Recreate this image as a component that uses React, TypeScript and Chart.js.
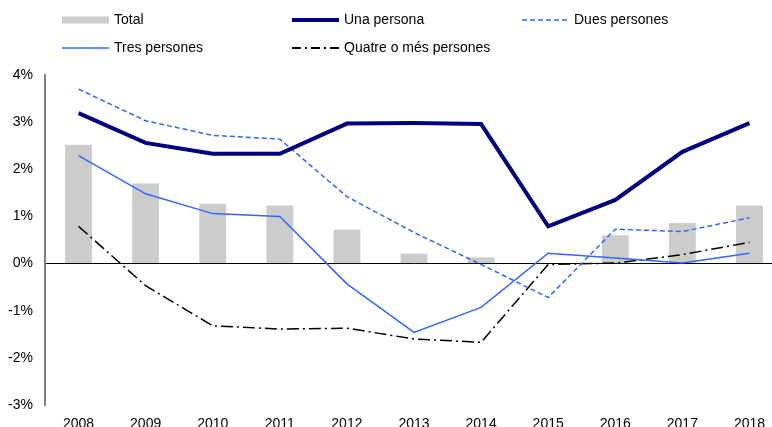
import { useEffect, useRef } from 'react';
import { Chart, registerables } from 'chart.js';

Chart.register(...registerables);

const years = ['2008', '2009', '2010', '2011', '2012', '2013', '2014', '2015', '2016', '2017', '2018'];
const total = [2.52, 1.7, 1.27, 1.23, 0.72, 0.21, 0.13, 0.0, 0.6, 0.86, 1.23];
const unaPersona = [3.19, 2.56, 2.33, 2.33, 2.97, 2.98, 2.96, 0.79, 1.35, 2.37, 2.98];
const duesPersones = [3.7, 3.03, 2.72, 2.64, 1.42, 0.66, -0.02, -0.72, 0.73, 0.68, 0.97];
const tresPersones = [2.29, 1.48, 1.06, 1.0, -0.43, -1.46, -0.93, 0.22, 0.12, 0.01, 0.22];
const quatrePersones = [0.79, -0.47, -1.32, -1.39, -1.37, -1.6, -1.67, -0.02, 0.01, 0.19, 0.45];
const yMin = -3;
const yMax = 4;

const FONT = "'Liberation Sans', Arial, sans-serif";
const GREY = '#CCCCCC';
const NAVY = '#000080';
const BLUE = '#3366FF';

type LegendItem = {
  label: string;
  kind: 'box' | 'line';
  color: string;
  width: number;
  dash: number[];
  x: number;
  y: number;
};

const legendItems: LegendItem[] = [
  { label: 'Total', kind: 'box', color: GREY, width: 7, dash: [], x: 62, y: 20 },
  { label: 'Una persona', kind: 'line', color: NAVY, width: 4, dash: [], x: 292, y: 20 },
  { label: 'Dues persones', kind: 'line', color: BLUE, width: 1.5, dash: [5, 3], x: 522, y: 20 },
  { label: 'Tres persones', kind: 'line', color: BLUE, width: 1.5, dash: [], x: 62, y: 48 },
  { label: 'Quatre o més persones', kind: 'line', color: '#000000', width: 2, dash: [9, 4, 2, 4], x: 292, y: 48 },
];

const legendPlugin = {
  id: 'customLegend',
  afterDraw(chart: Chart) {
    const ctx = chart.ctx;
    ctx.save();
    ctx.font = `14px ${FONT}`;
    ctx.textBaseline = 'middle';
    ctx.textAlign = 'left';
    for (const it of legendItems) {
      const len = 47;
      if (it.kind === 'box') {
        ctx.fillStyle = it.color;
        ctx.fillRect(it.x, it.y - it.width / 2, len, it.width);
      } else {
        ctx.strokeStyle = it.color;
        ctx.lineWidth = it.width;
        ctx.setLineDash(it.dash);
        ctx.beginPath();
        ctx.moveTo(it.x, it.y);
        ctx.lineTo(it.x + len, it.y);
        ctx.stroke();
        ctx.setLineDash([]);
      }
      ctx.fillStyle = '#000';
      ctx.fillText(it.label, it.x + len + 5, it.y);
    }
    ctx.restore();
  },
};

export default function App() {
  const ref = useRef<HTMLCanvasElement>(null);

  useEffect(() => {
    if (!ref.current) return;
    const chart = new Chart(ref.current, {
      type: 'bar',
      data: {
        labels: years,
        datasets: [
          {
            type: 'line',
            label: 'Una persona',
            data: unaPersona,
            borderColor: NAVY,
            borderWidth: 4,
            pointRadius: 0,
            tension: 0,
            order: 1,
          },
          {
            type: 'line',
            label: 'Dues persones',
            data: duesPersones,
            borderColor: BLUE,
            borderWidth: 1.5,
            borderDash: [5, 3],
            pointRadius: 0,
            tension: 0,
            order: 2,
          },
          {
            type: 'line',
            label: 'Tres persones',
            data: tresPersones,
            borderColor: BLUE,
            borderWidth: 1.5,
            pointRadius: 0,
            tension: 0,
            order: 3,
          },
          {
            type: 'line',
            label: 'Quatre o més persones',
            data: quatrePersones,
            borderColor: '#000000',
            borderWidth: 1.5,
            borderDash: [12, 4, 2, 4],
            pointRadius: 0,
            tension: 0,
            order: 4,
          },
          {
            type: 'bar',
            label: 'Total',
            data: total,
            backgroundColor: GREY,
            barPercentage: 0.4,
            categoryPercentage: 1,
            order: 5,
          },
        ],
      },
      options: {
        responsive: false,
        animation: false,
        layout: { padding: { top: 75, right: 1, left: 0, bottom: 0 } },
        plugins: {
          legend: { display: false },
          tooltip: { enabled: false },
        },
        scales: {
          x: {
            offset: true,
            grid: { display: false },
            border: { display: false },
            ticks: {
              color: '#000',
              font: { family: FONT, size: 14 },
              padding: 3,
              maxRotation: 0,
            },
            afterFit: (scale: any) => {
              scale.height = 22;
            },
          },
          y: {
            min: yMin,
            max: yMax,
            border: { display: true, color: '#808080', width: 2 },
            grid: {
              drawTicks: false,
              color: (c: any) => (c.tick && c.tick.value === 0 ? '#000000' : 'rgba(0,0,0,0)'),
              lineWidth: 1,
            },
            ticks: {
              stepSize: 1,
              color: '#000',
              font: { family: FONT, size: 14 },
              padding: 12,
              callback: (v: any) => `${v}%`,
            },
            afterFit: (scale: any) => {
              scale.width = 45;
            },
          },
        },
      },
      plugins: [legendPlugin],
    });
    return () => chart.destroy();
  }, []);

  return (
    <div style={{ position: 'fixed', left: 0, top: 0, width: 772, height: 427, overflow: 'hidden', background: '#fff' }}>
      <canvas ref={ref} width={784} height={427} style={{ display: 'block', width: 784, height: 427 }} />
    </div>
  );
}
